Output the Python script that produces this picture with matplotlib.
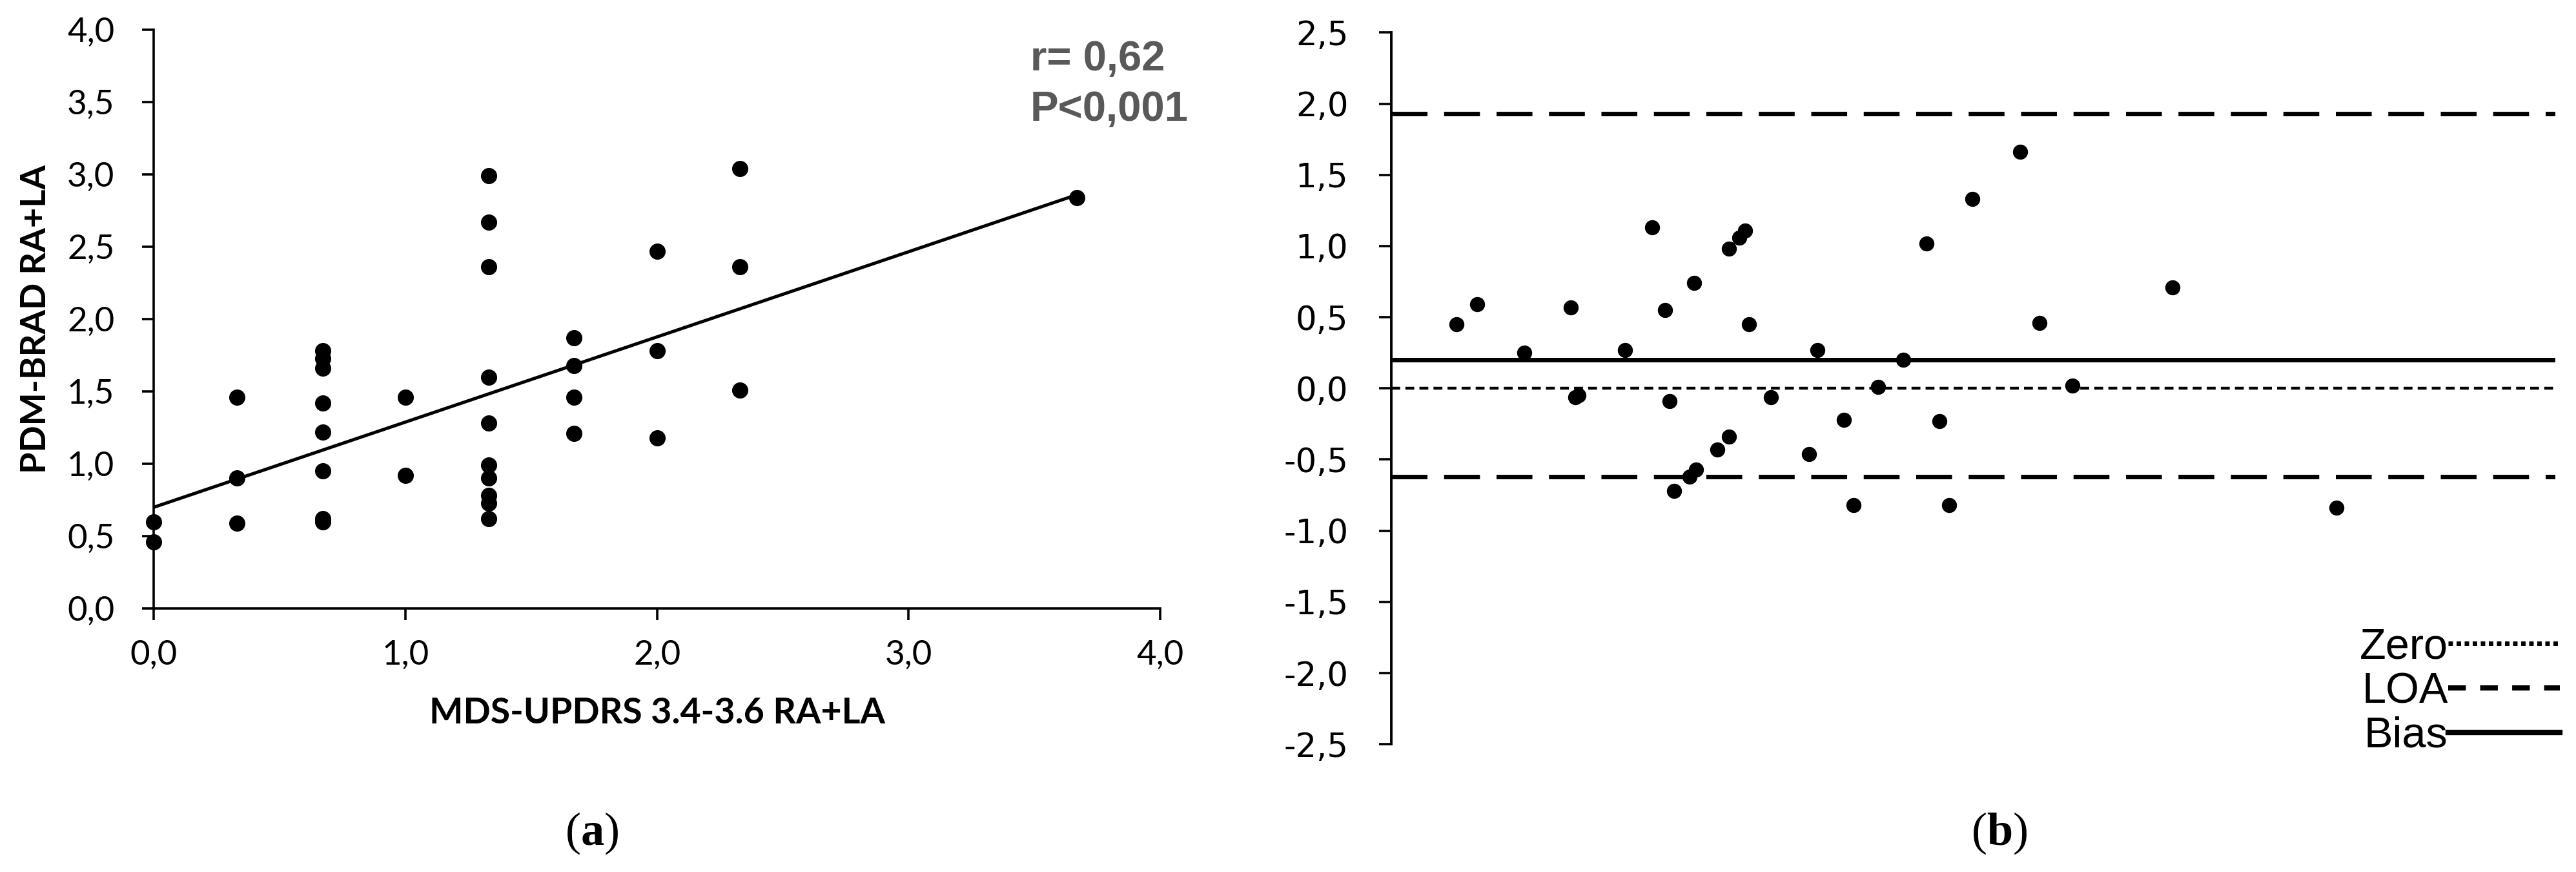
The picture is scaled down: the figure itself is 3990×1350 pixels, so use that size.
import matplotlib
matplotlib.use("Agg")
import matplotlib.pyplot as plt
from matplotlib.lines import Line2D

# (a) PDM-BRAD vs MDS-UPDRS 3.4-3.6
mds_x = [0.0, 0.0,
         0.33, 0.33, 0.33,
         0.67, 0.67, 0.67, 0.67, 0.67, 0.67, 0.67, 0.67,
         1.0, 1.0,
         1.33, 1.33, 1.33, 1.33, 1.33, 1.33, 1.33, 1.33, 1.33, 1.33,
         1.67, 1.67, 1.67, 1.67,
         2.0, 2.0, 2.0,
         2.33, 2.33, 2.33,
         3.67]
pdm_y = [0.60, 0.46,
         1.46, 0.90, 0.59,
         1.78, 1.73, 1.66, 1.42, 1.22, 0.95, 0.62, 0.60,
         1.46, 0.92,
         2.99, 2.67, 2.36, 1.60, 1.28, 0.99, 0.90, 0.78, 0.73, 0.62,
         1.87, 1.68, 1.46, 1.21,
         2.47, 1.78, 1.18,
         3.04, 2.36, 1.51,
         2.84]
fit_x = [0.0, 3.67]
fit_y = [0.70, 2.86]

# (b) Bland-Altman
ba_mean = [5.6, 7.4, 11.4, 15.4, 15.8, 16.1, 20.1, 22.4, 23.5, 23.9, 26.0,
           29.0, 29.9, 30.4, 30.7, 32.6, 36.6, 38.9, 41.8, 44.0, 46.0, 47.1,
           24.3, 25.6, 26.2, 28.0, 29.0, 35.9, 39.7, 47.9,
           49.9, 54.0, 55.7, 58.5, 67.1, 81.2]
ba_diff = [0.45, 0.59, 0.25, 0.57, -0.06, -0.05, 0.27, 1.13, 0.55, -0.09, 0.74,
           0.98, 1.06, 1.11, 0.45, -0.06, 0.27, -0.22, 0.01, 0.20, 1.02, -0.23,
           -0.72, -0.62, -0.57, -0.43, -0.34, -0.46, -0.82, -0.82,
           1.33, 1.66, 0.46, 0.02, 0.71, -0.84]
bias = 0.20
loa_upper = 1.93
loa_lower = -0.62

left_ticks = [0.0, 0.5, 1.0, 1.5, 2.0, 2.5, 3.0, 3.5, 4.0]
left_xticks = [0.0, 1.0, 2.0, 3.0, 4.0]
right_ticks = [-2.5, -2.0, -1.5, -1.0, -0.5, 0.0, 0.5, 1.0, 1.5, 2.0, 2.5]


def comma(v):
    return f"{v:.1f}".replace(".", ",")


plt.rcParams["mathtext.fontset"] = "custom"
plt.rcParams["mathtext.rm"] = "Liberation Serif"
plt.rcParams["mathtext.bf"] = "Liberation Serif:bold"

fig = plt.figure(figsize=(39.9, 13.5), dpi=100)

# ---- panel a
ax1 = fig.add_axes([0.05977, 0.3022, 0.3906, 0.6637])
ax1.scatter(mds_x, pdm_y, s=290, color="black", zorder=3, clip_on=False)
ax1.plot(fit_x, fit_y, color="black", lw=3.6, zorder=2)
ax1.set_xlim(0, 4)
ax1.set_ylim(0, 4)
ax1.set_xticks(left_xticks)
ax1.set_xticklabels([comma(v) for v in left_xticks], family="Lato", fontsize=38)
ax1.set_yticks(left_ticks)
ax1.set_yticklabels([comma(v) for v in left_ticks], family="Lato", fontsize=38)
for s in ["top", "right"]:
    ax1.spines[s].set_visible(False)
for s in ["left", "bottom"]:
    ax1.spines[s].set_linewidth(2.6)
ax1.tick_params(axis="both", direction="out", length=13, width=2.6)
ax1.tick_params(axis="x", pad=22)
ax1.tick_params(axis="y", pad=31)
ax1.set_xlabel("MDS-UPDRS 3.4-3.6 RA+LA", family="Lato", fontweight="bold",
               fontsize=40, labelpad=30)
ax1.set_ylabel("PDM-BRAD RA+LA", family="Lato", fontweight="bold",
               fontsize=39, labelpad=17)
ax1.text(3.483, 3.72, "r= 0,62", family="Liberation Sans", fontweight="bold",
         fontsize=47, color="#595959", va="baseline", ha="left")
ax1.text(3.483, 3.371, "P<0,001", family="Liberation Sans", fontweight="bold",
         fontsize=47, color="#595959", va="baseline", ha="left")

# ---- panel b
ax2 = fig.add_axes([0.5401, 0.14652, 0.4519, 0.81615])
ax2.scatter(ba_mean, ba_diff, s=250, color="black", zorder=3)
ax2.axhline(0.0, color="black", lw=3.2, dashes=(3.1, 1.8), zorder=2)
ax2.axhline(bias, color="black", lw=5.0, zorder=2)
ax2.axhline(loa_upper, color="black", lw=5.0, dashes=(8, 3.7), zorder=2)
ax2.axhline(loa_lower, color="black", lw=5.0, dashes=(8, 3.7), zorder=2)
ax2.set_xlim(0, 100)
ax2.set_ylim(-2.5, 2.5)
ax2.set_xticks([])
ax2.set_yticks(right_ticks)
ax2.set_yticklabels([comma(v) for v in right_ticks], family="DejaVu Sans",
                    fontsize=37)
for s in ["top", "right", "bottom"]:
    ax2.spines[s].set_visible(False)
ax2.spines["left"].set_linewidth(2.8)
ax2.tick_params(axis="y", direction="out", length=14, width=2.6, pad=34)

handles = [
    Line2D([], [], color="black", lw=5.0, dashes=(1.0, 0.8)),
    Line2D([], [], color="black", lw=5.8, dashes=(3.4, 2.75)),
    Line2D([], [], color="black", lw=6.0),
]
ax2.legend(handles, ["Zero", "LOA", "Bias"], loc="lower right",
           bbox_to_anchor=(0.9937, 0.1326), bbox_transform=fig.transFigure,
           markerfirst=False, frameon=False, handlelength=2.6,
           handletextpad=0.0, labelspacing=0.1, borderpad=0, borderaxespad=0,
           prop={"family": "Liberation Sans", "size": 48})

# panel letters
fig.text(917 / 3990, 1 - 1290 / 1350, r"($\mathbf{a}$)", family="Liberation Serif",
         fontsize=52, ha="center", va="center")
fig.text(3097 / 3990, 1 - 1290 / 1350, r"($\mathbf{b}$)", family="Liberation Serif",
         fontsize=52, ha="center", va="center")

fig.savefig("out.png", dpi=100)
